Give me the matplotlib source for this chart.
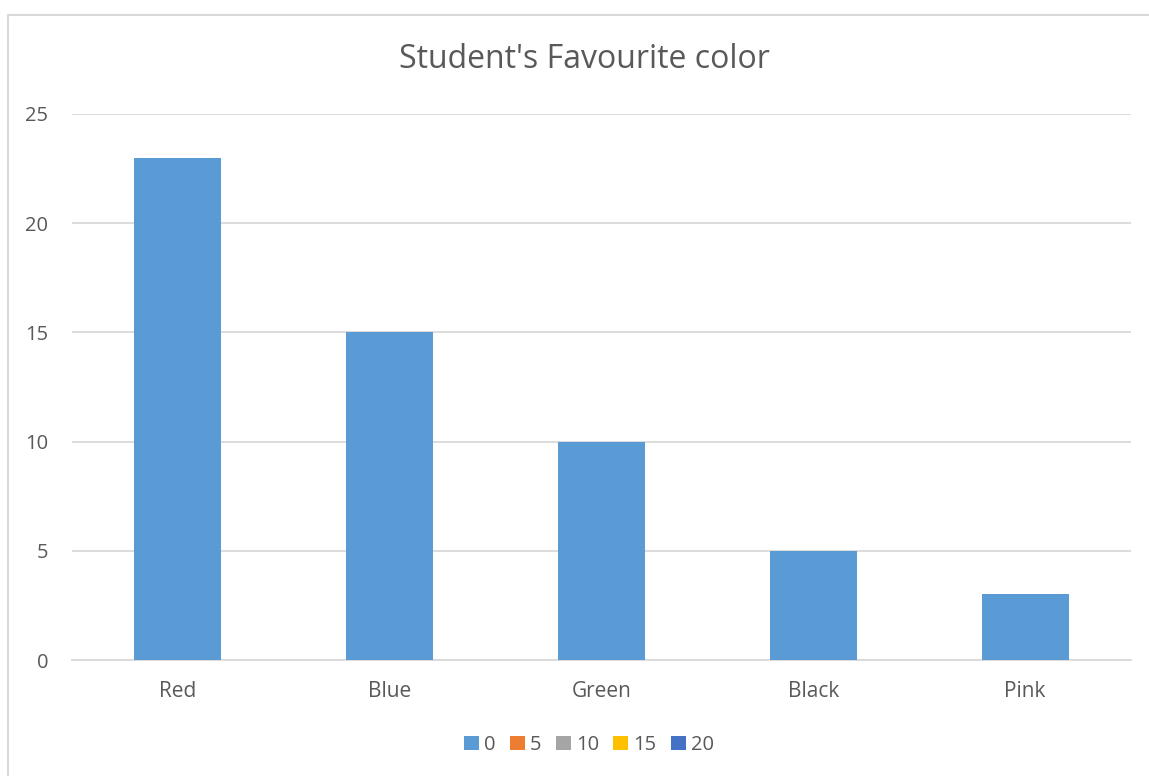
import matplotlib.pyplot as plt
from matplotlib.patches import Rectangle, Patch

colors_cat = ["Red", "Blue", "Green", "Black", "Pink"]
students = [23, 15, 10, 5, 3]
series_names = ["0", "5", "10", "15", "20"]
series_colors = ["#5B9BD5", "#ED7D31", "#A5A5A5", "#FFC000", "#4472C4"]

plt.rcParams['font.family'] = ['Open Sans', 'DejaVu Sans']
W, H = 1149, 776
fig = plt.figure(figsize=(W / 100, H / 100), dpi=100)

# chart area border (cropped on right and bottom)
fig.patches.append(Rectangle((8 / W, -0.05), 1.2, 1 - 15 / H + 0.05, transform=fig.transFigure,
                             fill=False, edgecolor="#D9D9D9", linewidth=1.5))

ax = fig.add_axes([72 / W, 1 - 660 / H, (1131 - 72) / W, (660 - 114) / H])
x = range(len(colors_cat))
ax.bar(x, students, width=0.41, color=series_colors[0], zorder=3)
ax.set_xlim(-0.5, len(colors_cat) - 0.5)
ax.set_ylim(0, 25)
ax.set_yticks([0, 5, 10, 15, 20, 25])
ax.set_xticks(list(x))
ax.set_xticklabels(colors_cat)
ax.grid(axis="y", color="#D9D9D9", linewidth=1.3, zorder=0)
for s in ["top", "right", "left"]:
    ax.spines[s].set_visible(False)
ax.spines["bottom"].set_color("#D9D9D9")
ax.spines["bottom"].set_linewidth(1.3)
ax.tick_params(axis="both", length=0, labelsize=15, labelcolor="#595959")
ax.tick_params(axis="x", pad=15)
ax.tick_params(axis="y", labelsize=14.5, pad=17)

fig.text(584 / W, 1 - 60 / H, "Student's Favourite color", ha="center", va="center",
         fontsize=23, color="#595959")

handles = [Patch(facecolor=c, label=n) for n, c in zip(series_names, series_colors)]
fig.legend(handles=handles, loc="center", bbox_to_anchor=(589 / W, 1 - 745 / H), ncol=5,
           frameon=False, fontsize=14.5, labelcolor="#595959", handlelength=0.75,
           handleheight=0.75, handletextpad=0.25, columnspacing=0.7)

fig.savefig("out.png", dpi=100)
